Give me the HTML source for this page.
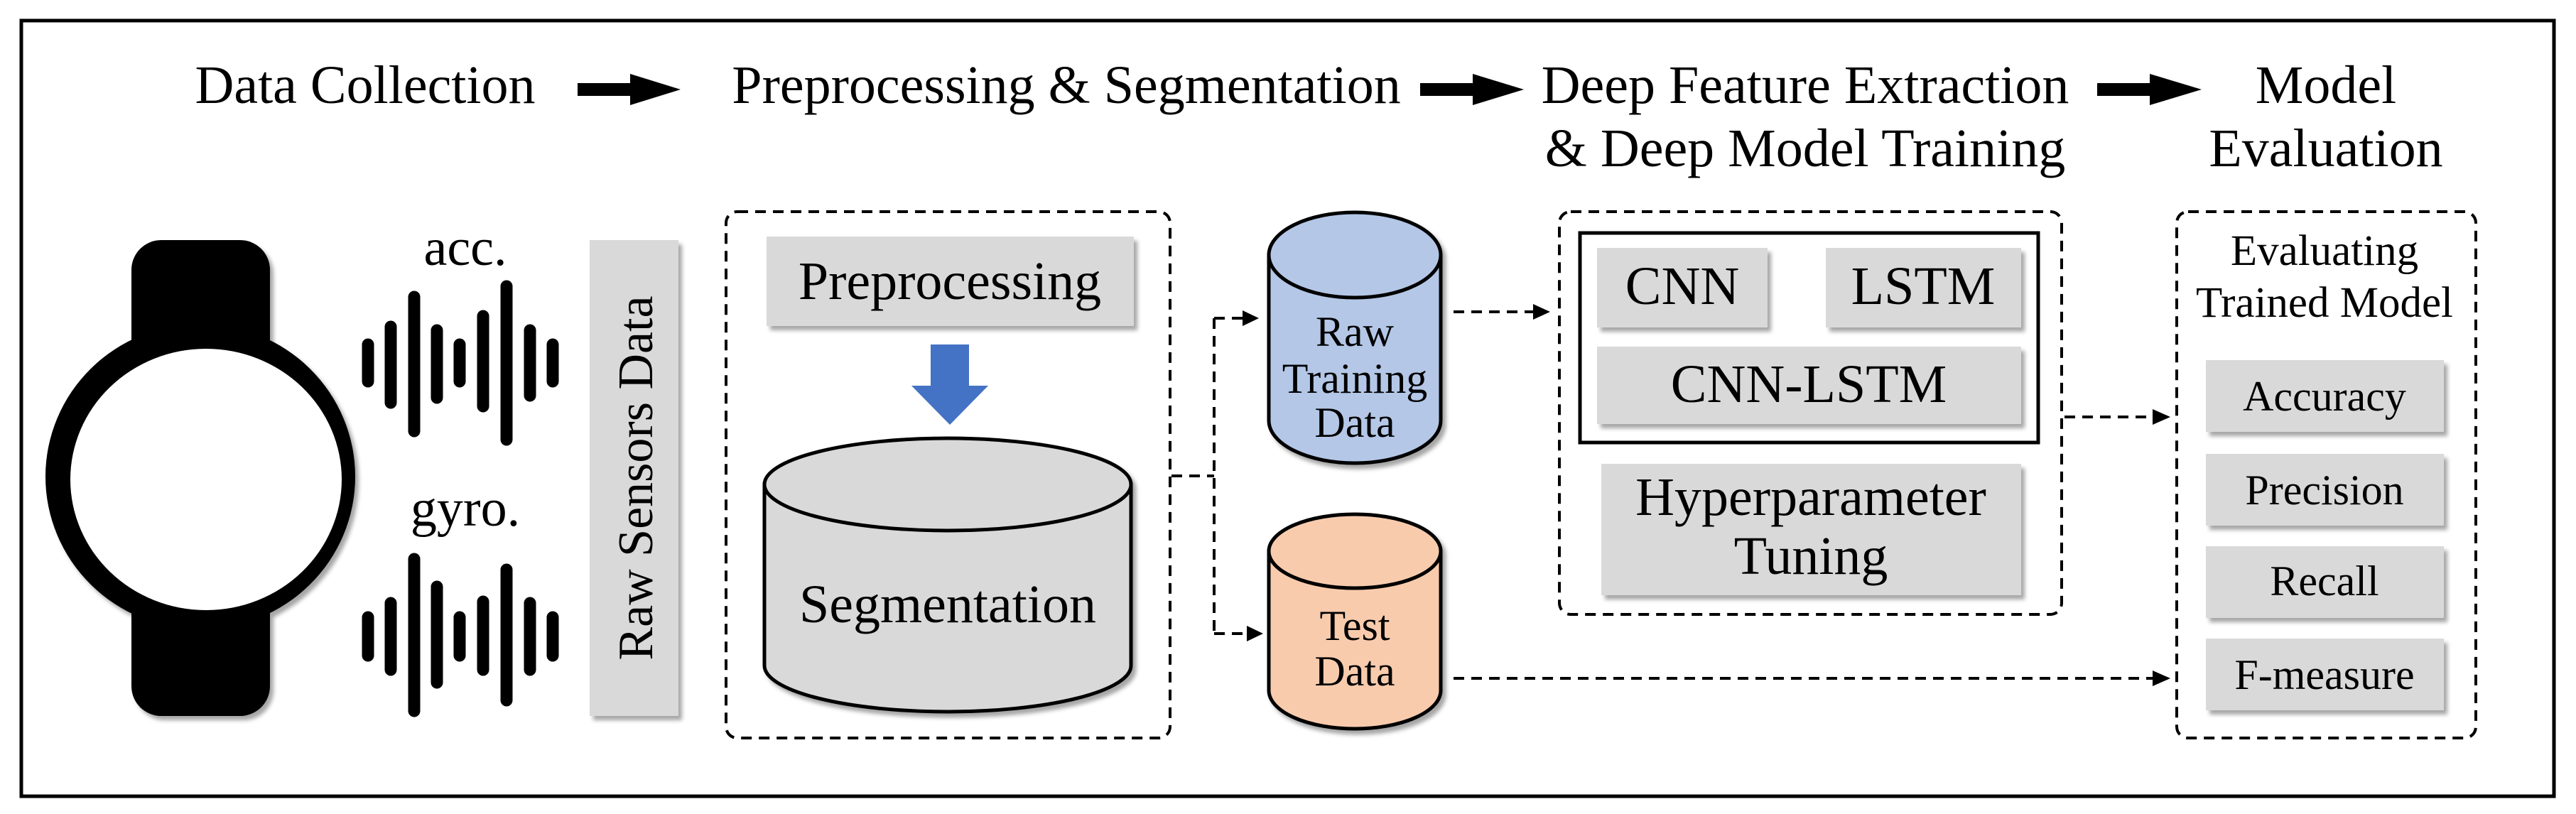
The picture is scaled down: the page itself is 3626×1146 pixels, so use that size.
<!DOCTYPE html>
<html><head><meta charset="utf-8"><style>
html,body{margin:0;padding:0;background:#fff;}
svg{display:block;font-family:"Liberation Serif","DejaVu Serif","Noto Serif CJK SC",serif;}
svg text{font-family:"Liberation Serif","DejaVu Serif","Noto Serif CJK SC",serif;fill:#000;}
</style></head><body>
<svg width="3626" height="1146" viewBox="0 0 3626 1146" xmlns="http://www.w3.org/2000/svg" font-family="Liberation Serif, DejaVu Serif, serif">
<defs>
<filter id="sh" x="-10%" y="-10%" width="130%" height="130%"><feDropShadow dx="5" dy="6" stdDeviation="3" flood-color="#000" flood-opacity="0.35"/></filter>
</defs>
<rect x="0" y="0" width="3626" height="1146" fill="#fff"/>
<rect x="30" y="29" width="3565" height="1092" fill="none" stroke="#000" stroke-width="5"/>

<g font-size="76" font-family="Liberation Serif, serif">
<text x="514" y="145" text-anchor="middle">Data Collection</text>
<text x="1501" y="145" text-anchor="middle">Preprocessing &amp; Segmentation</text>
<text x="2541" y="145" text-anchor="middle">Deep Feature Extraction</text>
<text x="2541" y="234" text-anchor="middle">&amp; Deep Model Training</text>
<text x="3274" y="145" text-anchor="middle">Model</text>
<text x="3274" y="234" text-anchor="middle">Evaluation</text>
</g>
<g fill="#000">
<path d="M813 117 H887 V104 L958 126 L887 148 V135 H813 Z"/>
<path d="M1999 117 H2073 V104 L2145 126 L2073 148 V135 H1999 Z"/>
<path d="M2952 117 H3026 V104 L3099 126 L3026 148 V135 H2952 Z"/>
</g>

<g filter="url(#sh)">
<rect x="185" y="338" width="195" height="670" rx="42" fill="#000"/>
<ellipse cx="282" cy="671" rx="218" ry="215" fill="#000"/>
<ellipse cx="290" cy="675" rx="191" ry="184" fill="#fff"/>
</g>

<g font-family="Liberation Serif, serif">
<text x="655" y="373" font-size="74" text-anchor="middle">acc.</text>
<text x="655" y="740" font-size="74" text-anchor="middle">gyro.</text>
</g>
<g stroke="#000" stroke-width="17" stroke-linecap="round">
<line x1="518" y1="485" x2="518" y2="537"/>
<line x1="550" y1="460" x2="550" y2="567"/>
<line x1="583" y1="418" x2="583" y2="607"/>
<line x1="615" y1="465" x2="615" y2="560"/>
<line x1="647" y1="485" x2="647" y2="537"/>
<line x1="680" y1="445" x2="680" y2="572"/>
<line x1="713" y1="403" x2="713" y2="619"/>
<line x1="746" y1="465" x2="746" y2="557"/>
<line x1="778" y1="485" x2="778" y2="537"/>
<line x1="518" y1="869" x2="518" y2="923"/>
<line x1="550" y1="849" x2="550" y2="943"/>
<line x1="583" y1="787" x2="583" y2="1001"/>
<line x1="615" y1="826" x2="615" y2="961"/>
<line x1="647" y1="869" x2="647" y2="923"/>
<line x1="680" y1="847" x2="680" y2="943"/>
<line x1="713" y1="802" x2="713" y2="986"/>
<line x1="746" y1="849" x2="746" y2="943"/>
<line x1="778" y1="869" x2="778" y2="923"/>
</g>

<rect x="830" y="338" width="125" height="670" fill="#d9d9d9" filter="url(#sh)"/>
<text transform="translate(918 673) rotate(-90)" font-size="70" text-anchor="middle" font-family="Liberation Serif, serif">Raw Sensors Data</text>

<g fill="none" stroke="#000" stroke-width="4" stroke-dasharray="15 10">
<rect x="1022" y="298" width="625" height="741" rx="16"/>
<rect x="2195" y="298" width="707" height="567" rx="16"/>
<rect x="3064" y="298" width="421" height="741" rx="16"/>
</g>

<rect x="1079" y="333" width="517" height="126" fill="#d9d9d9" filter="url(#sh)"/>
<text x="1337" y="421" font-size="76" text-anchor="middle" font-family="Liberation Serif, serif">Preprocessing</text>
<path d="M1310 485 H1364 V543 H1391 L1337 598 L1283 543 H1310 Z" fill="#4472c4"/>

<g filter="url(#sh)">
<path d="M1076 682 V937 A258 65 0 0 0 1592 937 V682 Z" fill="#d9d9d9" stroke="#000" stroke-width="5"/>
<ellipse cx="1334" cy="682" rx="258" ry="65" fill="#d9d9d9" stroke="#000" stroke-width="5"/>
</g>
<text x="1334" y="876" font-size="76" text-anchor="middle" font-family="Liberation Serif, serif">Segmentation</text>

<g filter="url(#sh)">
<path d="M1786 359 V592 A121 60 0 0 0 2028 592 V359 Z" fill="#b4c7e7" stroke="#000" stroke-width="5"/>
<ellipse cx="1907" cy="359" rx="121" ry="60" fill="#b4c7e7" stroke="#000" stroke-width="5"/>
</g>
<g font-size="60" text-anchor="middle" font-family="Liberation Serif, serif">
<text x="1907" y="487">Raw</text>
<text x="1907" y="553">Training</text>
<text x="1907" y="615">Data</text>
</g>

<g filter="url(#sh)">
<path d="M1786 776 V972 A121 54 0 0 0 2028 972 V776 Z" fill="#f8cbad" stroke="#000" stroke-width="5"/>
<ellipse cx="1907" cy="776" rx="121" ry="52" fill="#f8cbad" stroke="#000" stroke-width="5"/>
</g>
<g font-size="60" text-anchor="middle" font-family="Liberation Serif, serif">
<text x="1907" y="901">Test</text>
<text x="1907" y="965">Data</text>
</g>

<g fill="none" stroke="#000" stroke-width="4" stroke-dasharray="15 10">
<path d="M1649 670 H1709"/>
<path d="M1709 448 V892"/>
<path d="M1709 448 H1752"/>
<path d="M1709 892 H1758"/>
<path d="M2046 439 H2160"/>
<path d="M2906 587 H3032"/>
<path d="M2046 955 H3032"/>
</g>
<g fill="#000">
<path d="M1749 437 L1772 448 L1749 459 Z"/>
<path d="M1755 881 L1778 892 L1755 903 Z"/>
<path d="M2158 428 L2182 439 L2158 450 Z"/>
<path d="M3030 576 L3055 587 L3030 598 Z"/>
<path d="M3030 944 L3055 955 L3030 966 Z"/>
</g>

<rect x="2224" y="328" width="645" height="295" fill="none" stroke="#000" stroke-width="5"/>
<g fill="#d9d9d9" filter="url(#sh)">
<rect x="2248" y="349" width="240" height="112"/>
<rect x="2570" y="349" width="275" height="112"/>
<rect x="2248" y="488" width="597" height="109"/>
<rect x="2254" y="653" width="591" height="185"/>
</g>
<g font-size="76" text-anchor="middle" font-family="Liberation Serif, serif">
<text x="2368" y="428">CNN</text>
<text x="2707" y="428">LSTM</text>
<text x="2546" y="566">CNN-LSTM</text>
<text x="2549" y="725">Hyperparameter</text>
<text x="2549" y="808">Tuning</text>
</g>

<g font-size="61" text-anchor="middle" font-family="Liberation Serif, serif">
<text x="3272" y="373">Evaluating</text>
<text x="3272" y="446">Trained Model</text>
</g>
<g fill="#d9d9d9" filter="url(#sh)">
<rect x="3105" y="507" width="335" height="101"/>
<rect x="3105" y="639" width="335" height="101"/>
<rect x="3105" y="769" width="335" height="101"/>
<rect x="3105" y="899" width="335" height="101"/>
</g>
<g font-size="60" text-anchor="middle" font-family="Liberation Serif, serif">
<text x="3272" y="578">Accuracy</text>
<text x="3272" y="710">Precision</text>
<text x="3272" y="838">Recall</text>
<text x="3272" y="970">F-measure</text>
</g>
</svg>
</body></html>
